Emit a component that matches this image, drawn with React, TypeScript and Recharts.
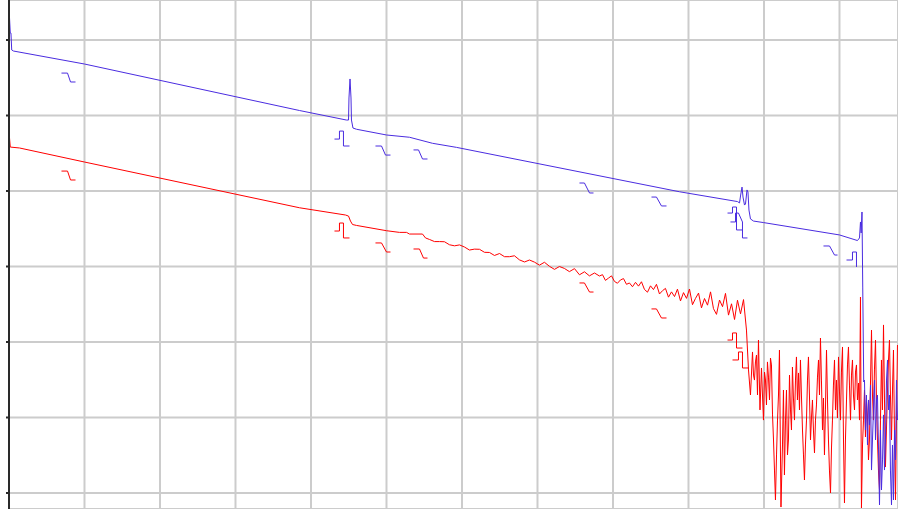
import { CartesianGrid, Line, LineChart, XAxis, YAxis } from 'recharts';

// distance in km (1 grid = 1 km), level in dB (1 grid = 5 dB)
const distanceTicks = [0, 1, 2, 3, 4, 5, 6, 7, 8, 9, 10, 11];
const levelTicks = [0, 5, 10, 15, 20, 25, 30];

type Pt = [number, number];

// trace at wavelength A (blue)
const traceA: Pt[] = [
  [0.007, 31.46], [0.017, 30.46], [0.026, 30.46], [0.036, 29.34], [0.06, 29.27],
  [1.0, 28.41], [3.848, 25.33], [4.47, 24.7], [4.497, 24.7], [4.503, 26.16],
  [4.517, 27.42], [4.53, 26.16], [4.536, 24.7], [4.556, 24.17], [4.603, 24.09],
  [5.0, 23.71], [5.305, 23.56], [5.609, 23.16], [5.927, 22.89], [8.881, 19.95],
  [9.649, 19.3], [9.676, 19.21], [9.689, 19.67], [9.709, 20.26], [9.722, 19.6],
  [9.742, 19.07], [9.755, 19.14], [9.775, 20.07], [9.788, 19.93], [9.801, 18.74],
  [9.821, 18.15], [9.861, 18.01], [9.993, 17.91], [11.0, 17.09], [11.238, 16.72],
  [11.265, 16.89], [11.278, 17.95], [11.287, 17.22], [11.298, 18.61], [11.308, 13.64],
  [11.321, 7.35], [11.331, 7.48], [11.344, 4.17], [11.357, 6.49], [11.371, 3.18],
  [11.384, 6.16], [11.397, 4.5], [11.411, 7.15], [11.424, 1.52], [11.437, 3.51],
  [11.45, 5.5], [11.464, 7.48], [11.477, 3.51], [11.49, 6.16], [11.503, 6.49],
  [11.517, 2.85], [11.53, -0.79], [11.543, 4.17], [11.556, 0.2], [11.57, 2.19],
  [11.583, 5.17], [11.596, 1.52], [11.609, 3.51], [11.623, 7.48], [11.636, 8.81],
  [11.649, 5.5], [11.662, 6.49], [11.675, 1.52], [11.689, -0.79], [11.702, 3.18],
  [11.715, -0.46], [11.729, 4.17], [11.742, 2.19], [11.755, 7.48], [11.768, 4.83],
];

// trace at wavelength B (red)
const traceB: Pt[] = [
  [0.007, 23.51], [0.017, 22.91], [0.139, 22.85], [1.0, 21.92], [3.848, 18.89],
  [4.457, 18.41], [4.497, 18.34], [4.523, 18.01], [4.55, 17.78], [4.603, 17.72],
  [5.0, 17.37], [5.172, 17.26], [5.265, 17.26], [5.305, 17.15], [5.477, 17.15],
  [5.517, 16.89], [5.57, 16.79], [5.636, 16.65], [5.702, 16.65], [5.768, 16.64],
  [5.834, 16.44], [5.901, 16.37], [5.967, 16.43], [6.033, 16.29], [6.099, 16.09],
  [6.165, 16.15], [6.232, 16.14], [6.298, 15.94], [6.364, 15.93], [6.43, 15.73],
  [6.497, 15.86], [6.563, 15.65], [6.629, 15.65], [6.695, 15.71], [6.761, 15.44],
  [6.828, 15.3], [6.894, 15.43], [6.96, 15.29], [7.026, 15.09], [7.092, 15.28],
  [7.159, 15.01], [7.225, 14.81], [7.291, 15.0], [7.357, 14.87], [7.423, 14.66],
  [7.49, 14.86], [7.556, 14.45], [7.622, 14.65], [7.688, 14.38], [7.755, 14.57],
  [7.821, 14.37], [7.861, 14.46], [7.9, 14.08], [7.94, 14.23], [7.98, 14.38],
  [8.02, 14.01], [8.059, 13.89], [8.099, 14.11], [8.139, 14.2], [8.179, 13.82],
  [8.218, 13.91], [8.258, 13.66], [8.298, 13.95], [8.338, 13.7], [8.377, 13.99],
  [8.417, 13.48], [8.457, 13.3], [8.497, 13.72], [8.536, 13.47], [8.576, 13.82],
  [8.616, 13.18], [8.656, 13.4], [8.695, 13.55], [8.735, 12.97], [8.775, 13.32],
  [8.815, 13.01], [8.854, 13.5], [8.894, 12.72], [8.934, 13.27], [8.974, 12.89],
  [9.013, 13.51], [9.053, 12.47], [9.093, 12.89], [9.133, 13.24], [9.172, 12.26],
  [9.212, 12.88], [9.252, 12.44], [9.292, 13.32], [9.331, 12.21], [9.371, 11.83],
  [9.411, 12.78], [9.451, 12.34], [9.49, 13.22], [9.53, 11.78], [9.57, 12.53],
  [9.61, 11.49], [9.649, 12.77], [9.689, 11.86], [9.729, 12.81], [9.768, 10.79],
  [9.795, 8.15], [9.821, 6.49], [9.848, 9.34], [9.861, 7.81], [9.874, 7.48],
  [9.887, 8.68], [9.901, 9.14], [9.914, 6.49], [9.927, 10.13], [9.947, 5.5],
  [9.967, 8.28], [9.98, 6.49], [9.993, 4.83], [10.007, 8.01], [10.02, 7.48],
  [10.033, 5.83], [10.046, 8.68], [10.06, 7.62], [10.073, 6.16], [10.086, 8.94],
  [10.099, 8.48], [10.113, 5.17], [10.126, 3.51], [10.139, 1.52], [10.152, -0.46],
  [10.166, 2.52], [10.179, 4.83], [10.192, 6.49], [10.205, 9.47], [10.225, -0.93],
  [10.245, 3.18], [10.258, 6.82], [10.271, 1.19], [10.285, 4.83], [10.298, 6.82],
  [10.311, 2.52], [10.324, 3.51], [10.338, 7.81], [10.351, 5.5], [10.364, 4.17],
  [10.377, 8.34], [10.39, 6.29], [10.404, 4.83], [10.417, 7.48], [10.43, 9.01],
  [10.443, 6.16], [10.457, 7.95], [10.47, 5.5], [10.483, 8.81], [10.496, 6.49],
  [10.51, 4.17], [10.523, 2.52], [10.536, 0.86], [10.549, 3.18], [10.563, 4.83],
  [10.576, 7.48], [10.589, 9.01], [10.602, 6.49], [10.616, 3.51], [10.629, 4.97],
  [10.642, 6.16], [10.655, 4.17], [10.669, 2.65], [10.682, 4.83], [10.695, 5.83],
  [10.708, 7.62], [10.722, 8.81], [10.735, 6.49], [10.748, 10.26], [10.761, 7.48],
  [10.775, 4.17], [10.788, 6.29], [10.801, 2.52], [10.814, 5.5], [10.828, 9.47],
  [10.841, 6.16], [10.854, 3.51], [10.867, 1.52], [10.881, 0.0], [10.894, 2.98],
  [10.907, 4.83], [10.92, 7.15], [10.934, 8.81], [10.947, 5.5], [10.96, 7.48],
  [10.973, 4.97], [10.987, 9.01], [11.0, 6.69], [11.013, 4.83], [11.026, 8.01],
  [11.04, 9.67], [11.053, 3.51], [11.066, -0.66], [11.079, 3.51], [11.093, 6.16],
  [11.106, 8.48], [11.119, 9.67], [11.132, 7.15], [11.146, 4.83], [11.159, 7.81],
  [11.172, 8.81], [11.185, 6.49], [11.199, 5.5], [11.212, 8.01], [11.225, 8.48],
  [11.238, 6.16], [11.252, 7.28], [11.265, 4.83], [11.278, 12.98], [11.291, -0.99],
  [11.305, 3.18], [11.318, 4.83], [11.331, 6.82], [11.344, 3.71], [11.357, 6.16],
  [11.371, 5.03], [11.384, 2.19], [11.397, 3.51], [11.41, 7.15], [11.424, 10.79],
  [11.437, 6.49], [11.45, 4.83], [11.463, 8.15], [11.477, 10.13], [11.49, 6.16],
  [11.503, 3.51], [11.516, 1.52], [11.53, 0.2], [11.543, 4.83], [11.556, 8.81],
  [11.569, 5.5], [11.583, 11.13], [11.596, 6.16], [11.609, 1.72], [11.622, 4.17],
  [11.636, 6.82], [11.649, 8.81], [11.662, 10.13], [11.675, 6.49], [11.689, 3.51],
  [11.702, 6.82], [11.715, 9.47], [11.728, 4.17], [11.742, -0.46], [11.755, 4.83],
  [11.768, 9.8],
];

// event markers drawn under each trace
const eventsA: Pt[][] = [
  [[0.695, 27.81], [0.775, 27.81], [0.815, 27.22], [0.881, 27.22]],
  [[4.311, 23.44], [4.377, 23.44], [4.377, 23.97], [4.43, 23.97], [4.43, 22.98], [4.51, 22.98]],
  [[4.854, 22.98], [4.934, 22.98], [4.987, 22.38], [5.053, 22.38]],
  [[5.358, 22.72], [5.424, 22.72], [5.477, 22.12], [5.543, 22.12]],
  [[7.556, 20.53], [7.622, 20.53], [7.689, 19.87], [7.742, 19.87]],
  [[8.51, 19.6], [8.576, 19.6], [8.642, 19.01], [8.709, 19.01]],
  [[9.517, 18.54], [9.583, 18.54], [9.583, 18.94], [9.636, 18.94], [9.636, 17.42], [9.715, 17.42]],
  [[9.556, 17.95], [9.623, 17.95], [9.623, 18.54], [9.662, 18.54], [9.715, 17.95], [9.715, 16.89], [9.781, 16.89]],
  [[10.788, 16.36], [10.868, 16.36], [10.934, 15.76], [10.974, 15.76]],
  [[11.093, 15.43], [11.172, 15.43], [11.172, 15.96], [11.225, 15.96], [11.225, 14.97]],
];

const eventsB: Pt[][] = [
  [[0.695, 21.32], [0.775, 21.32], [0.815, 20.73], [0.881, 20.73]],
  [[4.311, 17.35], [4.377, 17.35], [4.377, 17.88], [4.43, 17.88], [4.43, 16.89], [4.51, 16.89]],
  [[4.854, 16.56], [4.934, 16.56], [5.0, 15.96], [5.053, 15.96]],
  [[5.358, 16.16], [5.437, 16.16], [5.49, 15.56], [5.543, 15.56]],
  [[7.556, 13.91], [7.622, 13.91], [7.689, 13.31], [7.742, 13.31]],
  [[8.51, 12.19], [8.576, 12.19], [8.642, 11.59], [8.709, 11.59]],
  [[9.517, 10.13], [9.583, 10.13], [9.583, 10.6], [9.636, 10.6], [9.636, 9.6], [9.715, 9.6]],
  [[9.583, 8.81], [9.662, 8.81], [9.662, 9.34], [9.715, 9.34], [9.715, 8.28], [9.795, 8.28]],
];

const toRows = (pts: Pt[]) => pts.map(([x, y]) => ({ x, y }));

const toBrokenRows = (groups: Pt[][]) =>
  groups.flatMap((g) => [...toRows(g), { x: g[g.length - 1][0], y: null as number | null }]);

const BLUE = '#4a2ce0';
const RED = '#ff0000';

// axis shows tick marks only, no labels
const NoLabel = () => <g />;

export default function App() {
  return (
    <div style={{ position: 'absolute', left: 0, top: 0, background: '#fff' }}>
      <LineChart width={898} height={509} margin={{ top: 0, right: 0, bottom: 0, left: 0 }}>
        <CartesianGrid stroke="#cccccc" strokeWidth={2} />
        <XAxis
          dataKey="x"
          type="number"
          domain={[0, 11.775]}
          ticks={distanceTicks}
          allowDataOverflow
          hide
        />
        <YAxis
          type="number"
          domain={[-1.06, 32.65]}
          ticks={levelTicks}
          allowDataOverflow
          width={9}
          tick={NoLabel}
          tickSize={3}
          axisLine={{ stroke: '#2a2a2a', strokeWidth: 2 }}
          tickLine={{ stroke: '#2a2a2a', strokeWidth: 2 }}
        />
        <Line
          data={toRows(traceB)}
          dataKey="y"
          type="linear"
          stroke={RED}
          strokeWidth={1}
          dot={false}
          isAnimationActive={false}
        />
        <Line
          data={toBrokenRows(eventsB)}
          dataKey="y"
          type="linear"
          stroke={RED}
          strokeWidth={1}
          dot={false}
          connectNulls={false}
          isAnimationActive={false}
        />
        <Line
          data={toRows(traceA)}
          dataKey="y"
          type="linear"
          stroke={BLUE}
          strokeWidth={1}
          dot={false}
          isAnimationActive={false}
        />
        <Line
          data={toBrokenRows(eventsA)}
          dataKey="y"
          type="linear"
          stroke={BLUE}
          strokeWidth={1}
          dot={false}
          connectNulls={false}
          isAnimationActive={false}
        />
      </LineChart>
    </div>
  );
}
